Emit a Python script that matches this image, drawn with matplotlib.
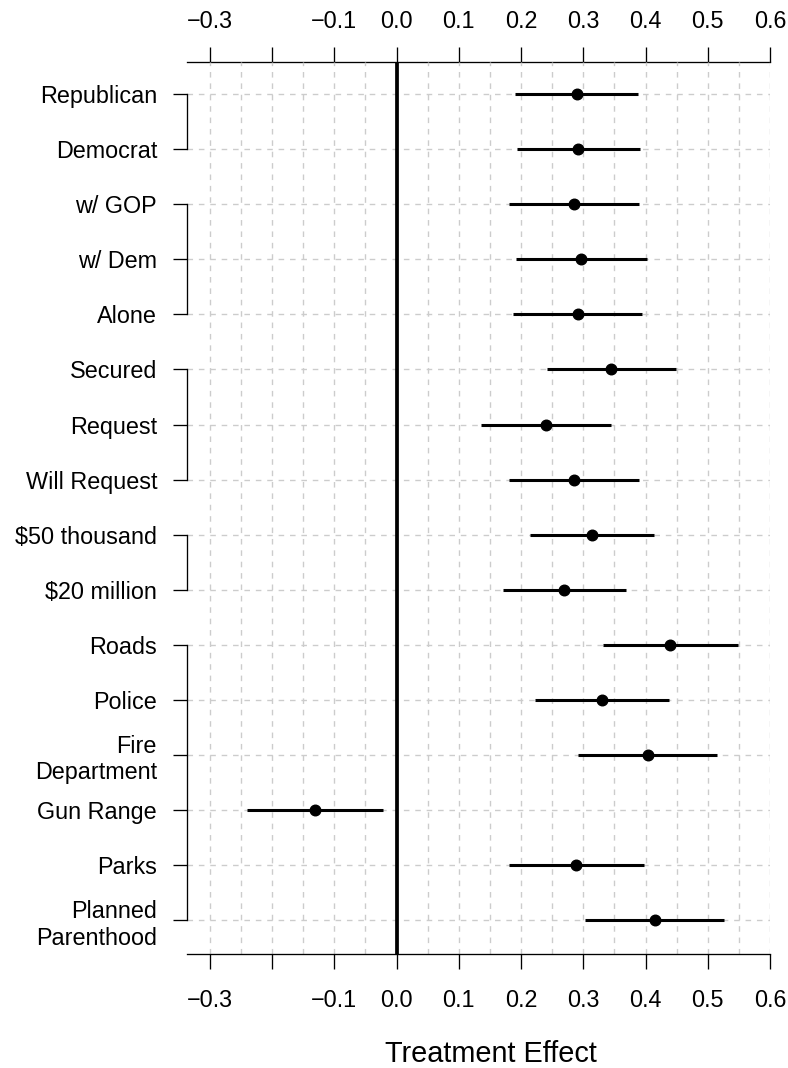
import matplotlib
matplotlib.use("Agg")
import matplotlib.pyplot as plt
import matplotlib.transforms as mtransforms
import numpy as np

# ---- data ----
labels = ["Republican", "Democrat", "w/ GOP", "w/ Dem", "Alone",
          "Secured", "Request", "Will Request", "$50 thousand", "$20 million",
          "Roads", "Police", "Fire\nDepartment", "Gun Range", "Parks",
          "Planned\nParenthood"]
est = [0.2894, 0.2915, 0.2851, 0.2970, 0.2909,
       0.3452, 0.2403, 0.2855, 0.3145, 0.2694,
       0.4393, 0.3301, 0.4032, -0.1312, 0.2882, 0.4145]
lo = [0.1900, 0.1941, 0.1813, 0.1920, 0.1876,
      0.2414, 0.1350, 0.1812, 0.2150, 0.1704,
      0.3312, 0.2226, 0.2919, -0.2410, 0.1801, 0.3032]
hi = [0.3884, 0.3916, 0.3890, 0.4016, 0.3946,
      0.4484, 0.3446, 0.3898, 0.4134, 0.3683,
      0.5484, 0.4376, 0.5145, -0.0213, 0.3968, 0.5263]
group_sizes = [2, 3, 3, 2, 6]
xticks = [-0.3, -0.2, -0.1, 0.0, 0.1, 0.2, 0.3, 0.4, 0.5, 0.6]
xticklabels = ["\u22120.3", "", "\u22120.1", "0.0", "0.1", "0.2",
               "0.3", "0.4", "0.5", "0.6"]
xgrid = np.arange(-0.30, 0.601, 0.05)
xlabel = "Treatment Effect"

plt.rcParams['font.family'] = ['Liberation Sans', 'DejaVu Sans']

W, H = 788, 1068
fig = plt.figure(figsize=(W / 100, H / 100), dpi=100)
L, R, T, B = 187, 770, 62, 954
ax = fig.add_axes([L / W, 1 - B / H, (R - L) / W, (B - T) / H])

n = len(labels)
ypos = [n - i for i in range(n)]
ax.set_xlim(-0.3367, 0.6)
ax.set_ylim(0.392, 16.58)

grid_kw = dict(color='#cccccc', lw=1.0, ls=(0, (4.0, 4.2)), zorder=1)
for gx in xgrid:
    ax.axvline(gx, **grid_kw)
for y in ypos:
    ax.axhline(y, **grid_kw)

ax.axvline(0, color='black', lw=2.7, zorder=2)
ax.hlines(ypos, lo, hi, color='black', lw=2.2, zorder=3)
ax.plot(est, ypos, 'o', color='black', ms=7.6, zorder=4)

fs = 16.85
# spines
for s in ['left', 'right', 'top']:
    ax.spines[s].set_visible(False)
ax.spines['bottom'].set_linewidth(0.95)

# bottom axis
ax.set_xticks(xticks)
ax.set_xticklabels(xticklabels)
ax.tick_params(axis='x', length=10.8, width=0.95, pad=14.7, labelsize=fs,
               direction='out')

# top axis
sec = ax.secondary_xaxis('top')
sec.set_xticks(xticks)
sec.set_xticklabels(xticklabels)
sec.tick_params(axis='x', length=10.8, width=0.95, pad=10.2, labelsize=fs,
                direction='out')
sec.spines['top'].set_linewidth(0.95)

# left axis: grouped brackets
ax.set_yticks(ypos)
ax.set_yticklabels(labels)
ax.tick_params(axis='y', length=10.1, width=0.95, pad=11.5, labelsize=fs,
               direction='out')
trans = mtransforms.blended_transform_factory(ax.transAxes, ax.transData)
start = 0
for g in group_sizes:
    ys = ypos[start:start + g]
    ax.plot([0, 0], [ys[0], ys[-1]], color='black', lw=0.95,
            transform=trans, clip_on=False, zorder=5,
            solid_capstyle='projecting')
    start += g

fig.text(490.5 / W, 1 - 1062.3 / H, xlabel, ha='center', va='baseline',
         fontsize=20.8)

fig.savefig("out.png", dpi=100)
